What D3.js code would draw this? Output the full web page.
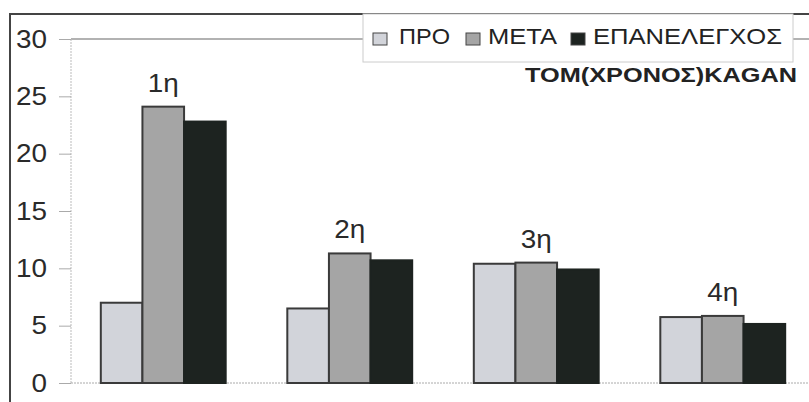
<!DOCTYPE html>
<html lang="el">
<head>
  <meta charset="UTF-8">
  <title>ΤΟΜ(ΧΡΟΝΟΣ)KAGAN</title>
  <script src="https://d3js.org/d3.v7.min.js"></script>
  <style>
    body { margin: 0; background: #fff; }
    svg { display: block; font-family: 'Liberation Sans', Arial, sans-serif; }
  </style>
</head>
<body>
<svg width="809" height="402"></svg>
<script>
const categories = ["1η", "2η", "3η", "4η"];
const seriesNames = ["ΠΡΟ", "ΜΕΤΑ", "ΕΠΑΝΕΛΕΓΧΟΣ"];
const pro = [7.0, 6.5, 10.4, 5.75];
const meta = [24.1, 11.3, 10.5, 5.85];
const epan = [22.8, 10.7, 9.9, 5.15];
const yTicks = [0, 5, 10, 15, 20, 25, 30];
const colors = ["#d2d4da", "#a5a5a5", "#1d2320"];

const series = [pro, meta, epan];
const svg = d3.select("svg");
const font = "'Liberation Sans', Arial, sans-serif";

// outer frame (top and left edges only are visible)
svg.append("path")
  .attr("d", "M10,402V14H809")
  .attr("fill", "none")
  .attr("stroke", "#444")
  .attr("stroke-width", 2);

const x = d3.scaleBand().domain(categories).range([70, 816]);
const xs = d3.scaleBand().domain(d3.range(3)).range([0, x.bandwidth()]).paddingOuter(0.74);
const y = d3.scaleLinear().domain([0, 30]).range([383, 39]);

// plot area frame
svg.append("line")
  .attr("x1", 71).attr("x2", 809).attr("y1", y(30)).attr("y2", y(30))
  .attr("stroke", "#999").attr("stroke-width", 1.5);
svg.append("line")
  .attr("x1", 71).attr("x2", 71).attr("y1", y(30)).attr("y2", y(0))
  .attr("stroke", "#bbb").attr("stroke-dasharray", "2 1");
svg.append("line")
  .attr("x1", 71).attr("x2", 809).attr("y1", y(0)).attr("y2", y(0))
  .attr("stroke", "#aaa").attr("stroke-dasharray", "2 1");

// y axis
const yAxis = svg.append("g")
  .attr("transform", "translate(71,0)")
  .call(d3.axisLeft(y).tickValues(yTicks).tickSize(12).tickPadding(12));
yAxis.select(".domain").remove();
yAxis.selectAll(".tick line").attr("stroke", "#aaa");
yAxis.selectAll(".tick text")
  .attr("font-size", 26).attr("fill", "#2a2a2a")
  .attr("font-family", font)
  .attr("textLength", d => String(d).length * 15.5)
  .attr("lengthAdjust", "spacingAndGlyphs");

// bars
series.forEach((vals, si) => {
  svg.append("g").selectAll("rect")
    .data(vals)
    .join("rect")
    .attr("x", (d, i) => x(categories[i]) + xs(si))
    .attr("y", d => y(d))
    .attr("width", xs.bandwidth())
    .attr("height", d => y(0) - y(d))
    .attr("fill", colors[si])
    .attr("stroke", si === 2 ? "#1d2320" : "#3a3a3a")
    .attr("stroke-width", 2);
});

// category labels above each group
svg.append("g").selectAll("text")
  .data(categories)
  .join("text")
  .attr("x", d => x(d) + x.bandwidth() / 2)
  .attr("y", (d, i) => y(Math.max(pro[i], meta[i], epan[i])) - 15)
  .attr("text-anchor", "middle")
  .attr("font-size", 26)
  .attr("fill", "#2a2a2a")
  .attr("textLength", 31)
  .attr("lengthAdjust", "spacingAndGlyphs")
  .text(d => d);

// legend
const lg = svg.append("g");
lg.append("rect")
  .attr("x", 363).attr("y", 14).attr("width", 430).attr("height", 48)
  .attr("fill", "#fff").attr("stroke", "#ccc");
const legendX = [373, 466, 571];
const legendTextX = [399, 488, 593];
const legendW = [51, 69, 189];
seriesNames.forEach((name, i) => {
  lg.append("rect")
    .attr("x", legendX[i]).attr("y", 33).attr("width", 14).attr("height", 12)
    .attr("fill", colors[i]).attr("stroke", "#444").attr("stroke-width", 1);
  lg.append("text")
    .attr("x", legendTextX[i]).attr("y", 44)
    .attr("font-size", 22).attr("fill", "#222")
    .attr("textLength", legendW[i])
    .attr("lengthAdjust", "spacingAndGlyphs")
    .text(name);
});

svg.append("text")
  .attr("x", 525).attr("y", 82)
  .attr("font-size", 21).attr("font-weight", "bold").attr("fill", "#222")
  .attr("textLength", 272)
  .attr("lengthAdjust", "spacingAndGlyphs")
  .text("ΤΟΜ(ΧΡΟΝΟΣ)KAGAN");
</script>
</body>
</html>
